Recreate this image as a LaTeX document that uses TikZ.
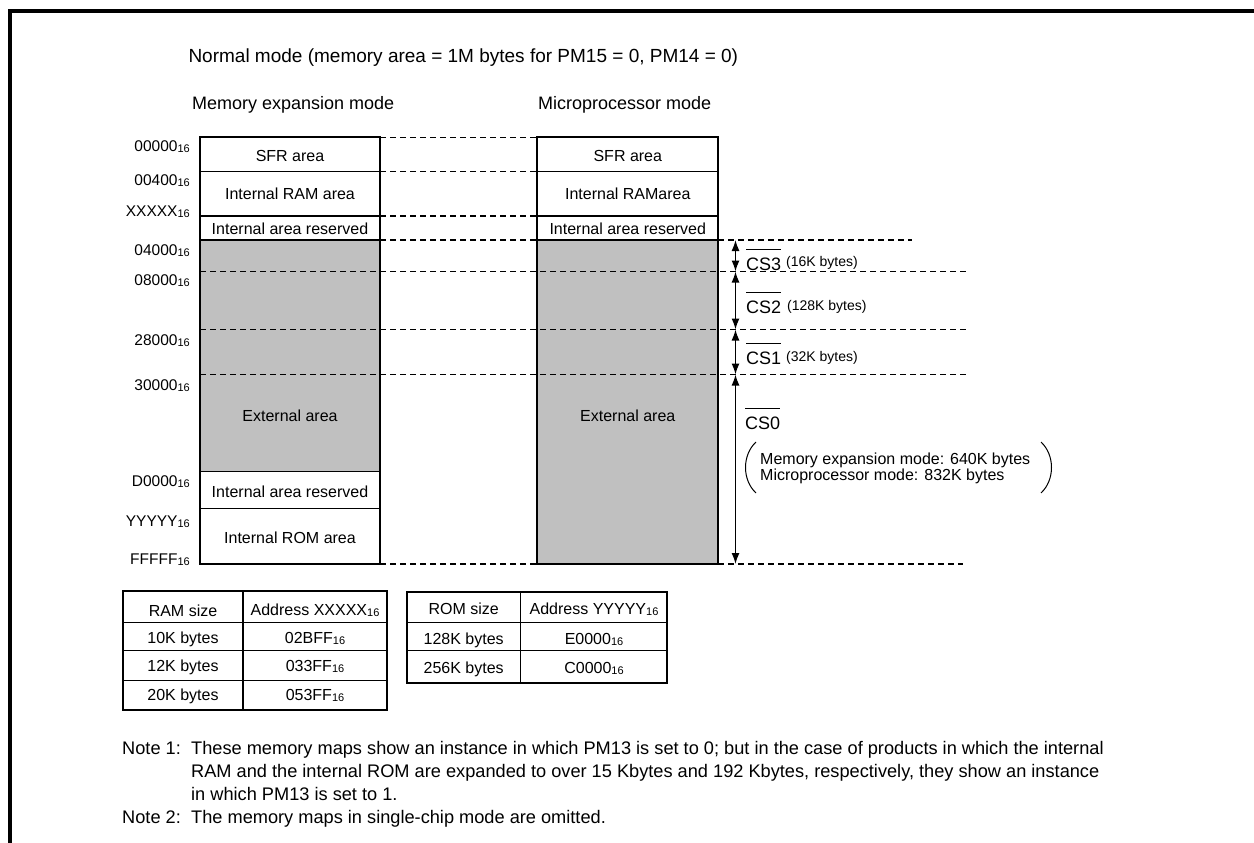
\documentclass[tikz,border=0pt]{standalone}
\usepackage{fontspec}
\setmainfont{Liberation Sans}
\usetikzlibrary{arrows.meta}
\definecolor{memgray}{RGB}{192,192,192}
\newcommand{\hx}{{\fontsize{11}{11}\selectfont\raisebox{-1pt}{16}}}
\begin{document}
\begin{tikzpicture}[x=1pt,y=-1pt,
  titlelbl/.style={inner sep=0pt, anchor=base west, font=\fontsize{19}{22}\selectfont},
  sublbl/.style={inner sep=0pt, anchor=base west, font=\fontsize{18}{21}\selectfont},
  addr/.style={inner sep=0pt, anchor=base east, font=\fontsize{15.5}{18}\selectfont},
  area/.style={inner sep=0pt, anchor=base, font=\fontsize{16}{19}\selectfont},
  cell/.style={inner sep=0pt, anchor=base, font=\fontsize{16}{19}\selectfont},
  cslbl/.style={inner sep=0pt, anchor=base west, font=\fontsize{18}{21}\selectfont},
  small/.style={inner sep=0pt, anchor=base west, font=\fontsize{14}{16}\selectfont},
  paren/.style={inner sep=0pt, anchor=base west, font=\fontsize{16}{19}\selectfont},
  note/.style={inner sep=0pt, anchor=base west, font=\fontsize{18.2}{21}\selectfont},
  colbox/.style={draw, line width=1.8pt},
  sepline/.style={line width=1.3pt},
  dsh/.style={dash pattern=on 6pt off 4pt, line width=1.1pt},
  dim/.style={{Latex[length=11pt,width=8pt]}-{Latex[length=11pt,width=8pt]}, line width=1.4pt},
  tbl/.style={draw, line width=2pt},
  tblsep/.style={line width=1.3pt},
]
\useasboundingbox (0,0) rectangle (1254,843);
% frame
\draw[line width=3.3pt] (10,843) -- (10,11) -- (1254,11);

% titles
\node[titlelbl] (title) at (188.3,62.3) {Normal mode (memory area = 1M bytes for PM15 = 0, PM14 = 0)};
\node[sublbl] (memexp) at (192,110) {Memory expansion mode};
\node[sublbl] (micro) at (538,110) {Microprocessor mode};

% fills
\fill[memgray] (200,240) rectangle (380,471.7);
\fill[memgray] (537.3,240) rectangle (718.3,564);

% coordinates for dashed lines / arrows
\coordinate (a0) at (735.5,240);
\coordinate (a1) at (735.5,271.5);
\coordinate (a2) at (735.5,329.5);
\coordinate (a3) at (735.5,374.5);
\coordinate (a4) at (735.5,564);

% dashed lines
\foreach \yy in {137.3,171.5,216,564} {
  \draw[dsh] (380,\yy) -- (537.3,\yy);
}
\draw[dsh, line width=1.6pt] (380,240) -- (537.3,240);
\draw[dsh, line width=1.6pt] (718.3,240) -- (912,240);
\foreach \yy in {271.5,329.5,374.5} {
  \draw[dsh] (200,\yy) -- (966,\yy);
}
\draw[dsh] (718.3,564) -- (963,564);

% left column
\draw[sepline] (200,171.5) -- (380,171.5);
\draw[sepline] (200,216) -- (380,216);
\draw[sepline] (200,240) -- (380,240);
\draw[sepline] (200,471.7) -- (380,471.7);
\draw[sepline] (200,508.3) -- (380,508.3);
\draw[colbox] (200,137.3) rectangle (380,564);

% right column
\draw[sepline] (537.3,171.5) -- (718.3,171.5);
\draw[sepline] (537.3,216) -- (718.3,216);
\draw[sepline] (537.3,240) -- (718.3,240);
\draw[colbox] (537.3,137.3) rectangle (718.3,564);

% area labels
\node[area] (l1) at (290,161) {SFR area};
\node[area] (l2) at (290,199.3) {Internal RAM area};
\node[area] (l3) at (290,234.5) {Internal area reserved};
\node[area] (l4) at (290,421.7) {External area};
\node[area] (l5) at (290,497.3) {Internal area reserved};
\node[area] (l6) at (290,543) {Internal ROM area};
\node[area] (r1) at (627.8,161) {SFR area};
\node[area] (r2) at (627.8,199.3) {Internal RAMarea};
\node[area] (r3) at (627.8,234.5) {Internal area reserved};
\node[area] (r4) at (627.8,421.7) {External area};

% addresses
\node[addr] (ad0) at (190,151.7) {00000\hx};
\node[addr] (ad1) at (190,185) {00400\hx};
\node[addr] (ad2) at (190,216.7) {XXXXX\hx};
\node[addr] (ad3) at (190,255) {04000\hx};
\node[addr] (ad4) at (190,285) {08000\hx};
\node[addr] (ad5) at (190,345) {28000\hx};
\node[addr] (ad6) at (190,390.7) {30000\hx};
\node[addr] (ad7) at (190,486.7) {D0000\hx};
\node[addr] (ad8) at (190,526) {YYYYY\hx};
\node[addr] (ad9) at (190,564) {FFFFF\hx};

% chip-select arrows
\draw[dim] (a0) -- (a1);
\draw[dim] (a1) -- (a2);
\draw[dim] (a2) -- (a3);
\draw[dim] (a3) -- (a4);

% CS labels
\node[cslbl] (cs3) at (746,270) {CS3};
\node[cslbl] (cs2) at (746,313.3) {CS2};
\node[cslbl] (cs1) at (746,364.3) {CS1};
\node[cslbl] (cs0) at (745,429.3) {CS0};
\foreach \n in {cs3,cs2,cs1,cs0} {
  \draw[line width=0.9pt] ([yshift=8pt]\n.north west) -- ([yshift=8pt]\n.north east);
}
\node[small] (k3) at (786,266.7) {(16K bytes)};
\node[small] (k2) at (787,310) {(128K bytes)};
\node[small] (k1) at (786,361.7) {(32K bytes)};
\node[paren] (p1) at (760,464) {Memory expansion mode: 640K bytes};
\node[paren] (p2) at (760,480) {Microprocessor mode: 832K bytes};
\draw[line width=1pt] (756,442) .. controls (742,455) and (742,480) .. (756,493);
\draw[line width=1pt] (1041,442) .. controls (1055,455) and (1055,480) .. (1041,493);

% RAM table
\draw[tblsep] (123,622.7) -- (387,622.7);
\draw[tblsep] (123,650.7) -- (387,650.7);
\draw[tblsep] (123,680.7) -- (387,680.7);
\draw[tblsep] (243,590.7) -- (243,710);
\draw[tbl] (123,590.7) rectangle (387,710);
\node[cell] (t1) at (183,616.5) {RAM size};
\node[cell] (t2) at (315,615.5) {Address XXXXX\hx};
\node[cell] (t3) at (183,643.3) {10K bytes};
\node[cell] (t4) at (315,643.3) {02BFF\hx};
\node[cell] (t5) at (183,671.7) {12K bytes};
\node[cell] (t6) at (315,671.7) {033FF\hx};
\node[cell] (t7) at (183,700.5) {20K bytes};
\node[cell] (t8) at (315,700.5) {053FF\hx};

% ROM table
\draw[tblsep] (406.7,622.7) -- (667.3,622.7);
\draw[tblsep] (406.7,650.7) -- (667.3,650.7);
\draw[tblsep] (520.7,591.7) -- (520.7,682.7);
\draw[tbl] (406.7,591.7) rectangle (667.3,682.7);
\node[cell] (u1) at (463.7,614.5) {ROM size};
\node[cell] (u2) at (594,614.5) {Address YYYYY\hx};
\node[cell] (u3) at (463.7,644) {128K bytes};
\node[cell] (u4) at (594,644) {E0000\hx};
\node[cell] (u5) at (463.7,673) {256K bytes};
\node[cell] (u6) at (594,673) {C0000\hx};

% notes
\node[note] (n1) at (122,754) {Note 1:};
\node[note] (n1a) at (191,754) {These memory maps show an instance in which PM13 is set to 0; but in the case of products in which the internal};
\node[note] (n1b) at (191,777) {RAM and the internal ROM are expanded to over 15 Kbytes and 192 Kbytes, respectively, they show an instance};
\node[note] (n1c) at (191,800) {in which PM13 is set to 1.};
\node[note] (n2) at (122,823.3) {Note 2:};
\node[note] (n2a) at (191,823.3) {The memory maps in single-chip mode are omitted.};
\end{tikzpicture}
\end{document}
